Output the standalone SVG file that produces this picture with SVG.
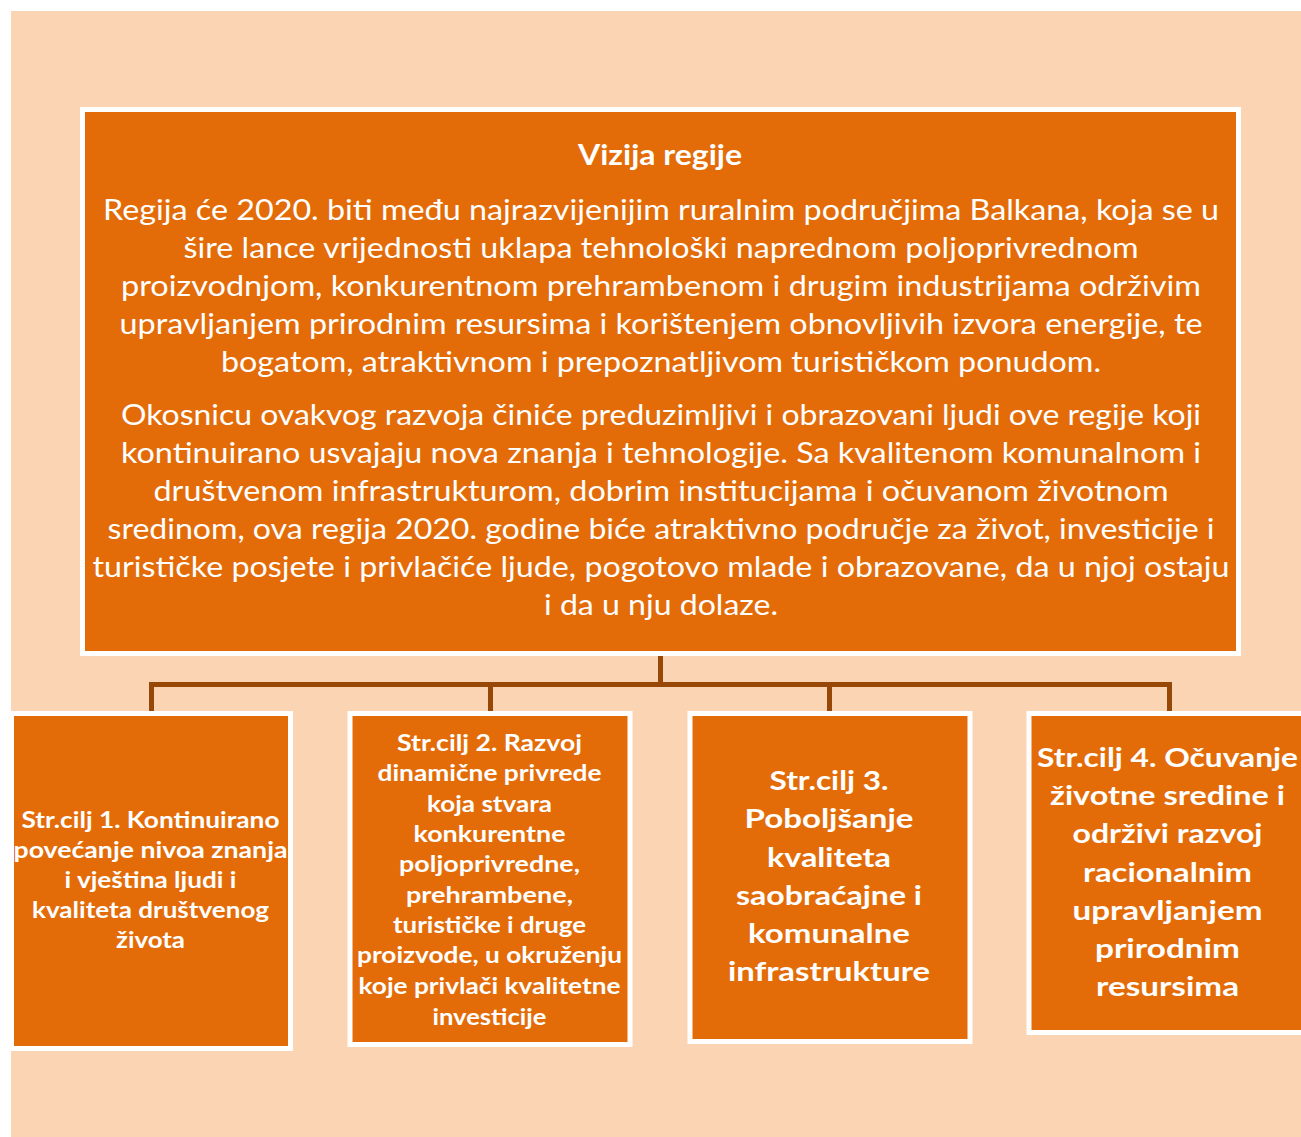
<svg xmlns="http://www.w3.org/2000/svg" width="1301" height="1137" viewBox="0 0 1301 1137">
<style>
.box{fill:#E36C09;stroke:#FFFFFF;stroke-width:5}
.conn{fill:none;stroke:#984806;stroke-width:5}
text{fill:#FFFFFF;font-family:Lato,"Open Sans","Liberation Sans",sans-serif;text-anchor:middle}
.body{font-size:28.5px}
.title{font-size:28.5px;font-weight:bold}
.s{font-size:23px;font-weight:bold}
.m{font-size:26px;font-weight:bold}
</style>
<rect x="0" y="0" width="1301" height="1137" fill="#FFFFFF"/>
<rect x="11" y="11" width="1290" height="1126" fill="#FBD4B4"/>
<g id="connectors">
<path class="conn" d="M660.5 656 V684.5"/>
<path class="conn" d="M151.5 711 V684.5 H1169.5 V711"/>
<path class="conn" d="M490.5 684.5 V711"/>
<path class="conn" d="M829.5 684.5 V711"/>
</g>
<g id="vision">
<rect class="box" x="82.5" y="109.5" width="1156" height="544"/>
<text class="title" x="660" y="165" textLength="164" lengthAdjust="spacingAndGlyphs">Vizija regije</text>
<text class="body" x="661" y="220" textLength="1116" lengthAdjust="spacingAndGlyphs">Regija će 2020. biti među najrazvijenijim ruralnim područjima Balkana, koja se u</text>
<text class="body" x="661" y="258" textLength="955" lengthAdjust="spacingAndGlyphs">šire lance vrijednosti uklapa tehnološki naprednom poljoprivrednom</text>
<text class="body" x="661" y="296" textLength="1080" lengthAdjust="spacingAndGlyphs">proizvodnjom, konkurentnom prehrambenom i drugim industrijama održivim</text>
<text class="body" x="661" y="334" textLength="1083" lengthAdjust="spacingAndGlyphs">upravljanjem prirodnim resursima i korištenjem obnovljivih izvora energije, te</text>
<text class="body" x="661" y="372" textLength="880" lengthAdjust="spacingAndGlyphs">bogatom, atraktivnom i prepoznatljivom turističkom ponudom.</text>
<text class="body" x="661" y="425" textLength="1080" lengthAdjust="spacingAndGlyphs">Okosnicu ovakvog razvoja činiće preduzimljivi i obrazovani ljudi ove regije koji</text>
<text class="body" x="661" y="463" textLength="1080" lengthAdjust="spacingAndGlyphs">kontinuirano usvajaju nova znanja i tehnologije. Sa kvalitenom komunalnom i</text>
<text class="body" x="661" y="501" textLength="1015" lengthAdjust="spacingAndGlyphs">društvenom infrastrukturom, dobrim institucijama i očuvanom životnom</text>
<text class="body" x="661" y="539" textLength="1107" lengthAdjust="spacingAndGlyphs">sredinom, ova regija 2020. godine biće atraktivno područje za život, investicije i</text>
<text class="body" x="661" y="577" textLength="1137" lengthAdjust="spacingAndGlyphs">turističke posjete i privlačiće ljude, pogotovo mlade i obrazovane, da u njoj ostaju</text>
<text class="body" x="661" y="615" textLength="234" lengthAdjust="spacingAndGlyphs">i da u nju dolaze.</text>
</g>
<g id="goal1">
<rect class="box" x="11.5" y="713.5" width="279" height="335"/>
<text class="s" x="150.5" y="828" textLength="258" lengthAdjust="spacingAndGlyphs">Str.cilj 1. Kontinuirano</text>
<text class="s" x="150.5" y="858" textLength="274" lengthAdjust="spacingAndGlyphs">povećanje nivoa znanja</text>
<text class="s" x="150.5" y="888" textLength="172" lengthAdjust="spacingAndGlyphs">i vještina ljudi i</text>
<text class="s" x="150.5" y="918" textLength="237" lengthAdjust="spacingAndGlyphs">kvaliteta društvenog</text>
<text class="s" x="150.5" y="948" textLength="69" lengthAdjust="spacingAndGlyphs">života</text>
</g>
<g id="goal2">
<rect class="box" x="350" y="713.5" width="280" height="331"/>
<text class="s" x="489.5" y="751" textLength="185" lengthAdjust="spacingAndGlyphs">Str.cilj 2. Razvoj</text>
<text class="s" x="489.5" y="781" textLength="224" lengthAdjust="spacingAndGlyphs">dinamične privrede</text>
<text class="s" x="489.5" y="811.5" textLength="125" lengthAdjust="spacingAndGlyphs">koja stvara</text>
<text class="s" x="489.5" y="841.5" textLength="152" lengthAdjust="spacingAndGlyphs">konkurentne</text>
<text class="s" x="489.5" y="872" textLength="181" lengthAdjust="spacingAndGlyphs">poljoprivredne,</text>
<text class="s" x="489.5" y="902.5" textLength="167" lengthAdjust="spacingAndGlyphs">prehrambene,</text>
<text class="s" x="489.5" y="933" textLength="193" lengthAdjust="spacingAndGlyphs">turističke i druge</text>
<text class="s" x="489.5" y="963" textLength="265" lengthAdjust="spacingAndGlyphs">proizvode, u okruženju</text>
<text class="s" x="489.5" y="994" textLength="262" lengthAdjust="spacingAndGlyphs">koje privlači kvalitetne</text>
<text class="s" x="489.5" y="1025" textLength="114" lengthAdjust="spacingAndGlyphs">investicije</text>
</g>
<g id="goal3">
<rect class="box" x="690" y="713.5" width="280" height="328"/>
<text class="m" x="829" y="790" textLength="119" lengthAdjust="spacingAndGlyphs">Str.cilj 3.</text>
<text class="m" x="829" y="828" textLength="169" lengthAdjust="spacingAndGlyphs">Poboljšanje</text>
<text class="m" x="829" y="867" textLength="124" lengthAdjust="spacingAndGlyphs">kvaliteta</text>
<text class="m" x="829" y="905" textLength="186" lengthAdjust="spacingAndGlyphs">saobraćajne i</text>
<text class="m" x="829" y="943" textLength="162" lengthAdjust="spacingAndGlyphs">komunalne</text>
<text class="m" x="829" y="981" textLength="202" lengthAdjust="spacingAndGlyphs">infrastrukture</text>
</g>
<g id="goal4">
<rect class="box" x="1029" y="713.5" width="280" height="319"/>
<text class="m" x="1167.5" y="767" textLength="261" lengthAdjust="spacingAndGlyphs">Str.cilj 4. Očuvanje</text>
<text class="m" x="1167.5" y="805" textLength="235" lengthAdjust="spacingAndGlyphs">životne sredine i</text>
<text class="m" x="1167.5" y="843" textLength="190" lengthAdjust="spacingAndGlyphs">održivi razvoj</text>
<text class="m" x="1167.5" y="882" textLength="169" lengthAdjust="spacingAndGlyphs">racionalnim</text>
<text class="m" x="1167.5" y="920" textLength="190" lengthAdjust="spacingAndGlyphs">upravljanjem</text>
<text class="m" x="1167.5" y="958" textLength="145" lengthAdjust="spacingAndGlyphs">prirodnim</text>
<text class="m" x="1167.5" y="996" textLength="143" lengthAdjust="spacingAndGlyphs">resursima</text>
</g>
</svg>
